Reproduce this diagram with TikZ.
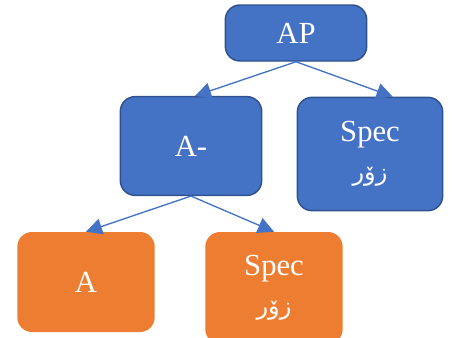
\documentclass[tikz,border=0pt]{standalone}
\usepackage{fontspec}
\setmainfont{Liberation Serif}
\newfontfamily\arabicfont[Script=Arabic]{DejaVu Sans}
\TeXXeTstate=1
\usetikzlibrary{arrows.meta}
\definecolor{boxblue}{HTML}{4472C4}
\definecolor{edgeblue}{HTML}{2F528F}
\definecolor{boxorange}{HTML}{ED7D31}
\tikzset{
  bluebox/.style={fill=boxblue,draw=edgeblue,line width=1.1pt,rounded corners=11pt,
    text=white,font=\fontsize{23}{26}\selectfont,align=center},
  orangebox/.style={fill=boxorange,rounded corners=11pt,
    text=white,font=\fontsize{23}{26}\selectfont,align=center},
  branch/.style={draw=boxblue,line width=1pt,-{Triangle[length=12pt,width=12pt]}}
}
\newcommand{\zor}{{\arabicfont\fontsize{18}{20}\selectfont\beginR زۆر\endR}}
\begin{document}
\begin{tikzpicture}[x=0.75pt,y=-0.75pt]
\clip (0,0) rectangle (473,337);
\useasboundingbox (0,0) rectangle (473,337);

\node[bluebox,minimum width=106pt,minimum height=42pt] (ap) at (296,33) {AP};
\node[bluebox,minimum width=106pt,minimum height=74pt] (abar) at (191,146) {A-};
\node[bluebox,minimum width=109pt,minimum height=85pt] (spec) at (370,154) {Spec\\[3pt]\zor};
\node[orangebox,minimum width=103pt,minimum height=75pt] (a) at (86,282) {A};
\node[orangebox,minimum width=103pt,minimum height=84pt] (specb) at (274,288) {Spec\\[3pt]\zor};

\draw[branch] (ap.south) -- ([xshift=3pt]abar.north);
\draw[branch] (ap.south) -- ([xshift=17pt]spec.north);
\draw[branch] (abar.south) -- (a.north);
\draw[branch] (abar.south) -- (specb.north);

\end{tikzpicture}
\end{document}
